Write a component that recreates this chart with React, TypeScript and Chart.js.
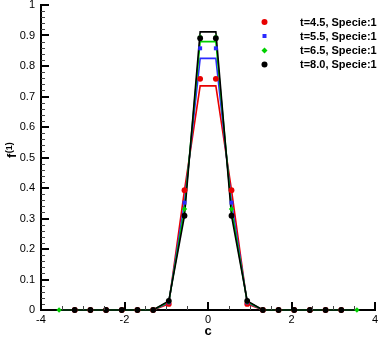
import React, { useEffect, useRef } from "react";
import { Chart, registerables } from "chart.js";

Chart.register(...registerables);

const FONT = '"Liberation Sans", Arial, Helvetica, sans-serif';

const cValues = [
  -3.567, -3.192, -2.816, -2.441, -2.065, -1.69, -1.314, -0.939, -0.563, -0.188,
  0.188, 0.563, 0.939, 1.314, 1.69, 2.065, 2.441, 2.816, 3.192, 3.567,
];

// symbol values
const symT45 = [0, 0, 0, 0, 0, 0, 0, 0.02, 0.393, 0.758, 0.758, 0.393, 0.02, 0, 0, 0, 0, 0, 0, 0];
const symT55 = [0, 0, 0, 0, 0, 0, 0, 0.025, 0.352, 0.858, 0.858, 0.352, 0.025, 0, 0, 0, 0, 0, 0, 0];
const symT65 = [0, 0, 0, 0, 0, 0, 0, 0.027, 0.331, 0.895, 0.895, 0.331, 0.027, 0, 0, 0, 0, 0, 0, 0];
const symT80 = [0, 0, 0, 0, 0, 0, 0, 0.03, 0.309, 0.891, 0.891, 0.309, 0.03, 0, 0, 0, 0, 0, 0, 0];

// line values
const lineT45 = [0, 0, 0, 0, 0, 0, 0, 0.02, 0.393, 0.735, 0.735, 0.393, 0.02, 0, 0, 0, 0, 0, 0, 0];
const lineT55 = [0, 0, 0, 0, 0, 0, 0, 0.025, 0.352, 0.825, 0.825, 0.352, 0.025, 0, 0, 0, 0, 0, 0, 0];
const lineT65 = [0, 0, 0, 0, 0, 0, 0, 0.027, 0.331, 0.88, 0.88, 0.331, 0.027, 0, 0, 0, 0, 0, 0, 0];
const lineT80 = [0, 0, 0, 0, 0, 0, 0, 0.03, 0.309, 0.912, 0.912, 0.309, 0.03, 0, 0, 0, 0, 0, 0, 0];

const legendLabels = ["t=4.5, Specie:1", "t=5.5, Specie:1", "t=6.5, Specie:1", "t=8.0, Specie:1"];
const xTicks = [-4, -2, 0, 2, 4];

const RED = "#e80000";
const BLUE = "#2a2aff";
const GREEN = "#00d000";
const BLACK = "#000000";

const toXY = (ys: number[]) => cValues.map((x, i) => ({ x, y: ys[i] }));

const hideEnds = (r: number) => (ctx: any) =>
  ctx.dataIndex === 0 || ctx.dataIndex === cValues.length - 1 ? 0 : r;

function drawMarker(ctx: CanvasRenderingContext2D, style: string, x: number, y: number, color: string) {
  ctx.save();
  ctx.fillStyle = color;
  ctx.beginPath();
  if (style === "circle") {
    ctx.arc(x, y, 3, 0, Math.PI * 2);
  } else if (style === "rect") {
    ctx.rect(x - 2, y - 2, 4, 4);
  } else {
    ctx.moveTo(x, y - 3);
    ctx.lineTo(x + 3, y);
    ctx.lineTo(x, y + 3);
    ctx.lineTo(x - 3, y);
    ctx.closePath();
  }
  ctx.fill();
  ctx.restore();
}

const decorPlugin = {
  id: "decor",
  afterDraw(chart: any) {
    const ctx: CanvasRenderingContext2D = chart.ctx;
    const xs = chart.scales.x;
    const ys = chart.scales.y;
    const { left, bottom } = chart.chartArea;
    ctx.save();
    // minor ticks
    ctx.strokeStyle = "#444";
    ctx.lineWidth = 1;
    ctx.beginPath();
    for (let k = -8; k <= 8; k++) {
      if (k % 4 === 0) continue;
      const px = Math.round(xs.getPixelForValue(k * 0.5)) + 0.5;
      ctx.moveTo(px, bottom);
      ctx.lineTo(px, bottom - 4);
    }
    for (let k = 0; k <= 50; k++) {
      if (k % 5 === 0) continue;
      const py = Math.round(ys.getPixelForValue(k * 0.02)) + 0.5;
      ctx.moveTo(left, py);
      ctx.lineTo(left + 4, py);
    }
    ctx.stroke();
    // major ticks
    ctx.strokeStyle = "#000";
    ctx.lineWidth = 2;
    ctx.beginPath();
    for (const v of xTicks) {
      const px = Math.round(xs.getPixelForValue(v));
      ctx.moveTo(px, bottom);
      ctx.lineTo(px, bottom - 8);
    }
    for (let k = 0; k <= 10; k++) {
      const py = Math.round(ys.getPixelForValue(k / 10));
      ctx.moveTo(left, py);
      ctx.lineTo(left + 8, py);
    }
    ctx.stroke();

    // axis titles
    ctx.fillStyle = "#000";
    ctx.font = `bold 13px ${FONT}`;
    ctx.textAlign = "center";
    ctx.textBaseline = "middle";
    ctx.fillText("c", (xs.left + xs.right) / 2, 331);

    ctx.save();
    ctx.translate(12, 158);
    ctx.rotate(-Math.PI / 2);
    ctx.textAlign = "left";
    ctx.textBaseline = "alphabetic";
    ctx.font = `bold 13px ${FONT}`;
    ctx.fillText("f", 0, 4);
    const fw = ctx.measureText("f").width;
    ctx.font = `bold 9px ${FONT}`;
    ctx.fillText("(1)", fw + 0.5, -0.5);
    ctx.restore();

    // legend
    const styles = ["circle", "rect", "rectRot", "circle"];
    const colors = [RED, BLUE, GREEN, BLACK];
    const rows = [22, 36, 50.5, 64.5];
    ctx.font = `bold 11px ${FONT}`;
    ctx.textAlign = "left";
    ctx.textBaseline = "middle";
    legendLabels.forEach((lab, i) => {
      drawMarker(ctx, styles[i], 264.5, rows[i], colors[i]);
      ctx.fillStyle = "#000";
      ctx.fillText(lab, 300, rows[i] + 0.5);
    });
    ctx.restore();
  },
};

export default function App() {
  const ref = useRef<HTMLCanvasElement | null>(null);

  useEffect(() => {
    document.body.style.margin = "0";
    const canvas = ref.current;
    if (!canvas) return;
    const symBase = { showLine: false, pointBorderWidth: 0, clip: false };
    const lineBase = { showLine: true, pointRadius: 0, borderWidth: 1.6, fill: false, tension: 0, clip: false };
    const chart = new Chart(canvas, {
      type: "scatter",
      data: {
        datasets: [
          { ...symBase, label: legendLabels[3], data: toXY(symT80), backgroundColor: BLACK, borderColor: BLACK, pointStyle: "circle", pointRadius: hideEnds(2.9) },
          { ...symBase, label: legendLabels[2], data: toXY(symT65), backgroundColor: GREEN, borderColor: GREEN, pointStyle: "rectRot", pointRadius: 2.7 },
          { ...symBase, label: legendLabels[1], data: toXY(symT55), backgroundColor: BLUE, borderColor: BLUE, pointStyle: "rect", pointRadius: hideEnds(2.8) },
          { ...symBase, label: legendLabels[0], data: toXY(symT45), backgroundColor: RED, borderColor: RED, pointStyle: "circle", pointRadius: hideEnds(2.9) },
          { ...lineBase, label: "line8.0", data: toXY(lineT80), borderColor: BLACK, backgroundColor: BLACK },
          { ...lineBase, label: "line6.5", data: toXY(lineT65), borderColor: GREEN, backgroundColor: GREEN },
          { ...lineBase, label: "line5.5", data: toXY(lineT55), borderColor: BLUE, backgroundColor: BLUE },
          { ...lineBase, label: "line4.5", data: toXY(lineT45), borderColor: RED, backgroundColor: RED },
        ] as any,
      },
      options: {
        animation: false,
        responsive: false,
        maintainAspectRatio: false,
        layout: { padding: { top: 5, right: 7, left: 0, bottom: 0 } },
        plugins: { legend: { display: false }, tooltip: { enabled: false } },
        scales: {
          x: {
            type: "linear",
            min: -4,
            max: 4,
            afterFit: (s: any) => {
              s.height = 27;
              s.paddingLeft = 0;
              s.paddingRight = 0;
            },
            afterBuildTicks: (s: any) => {
              s.ticks = xTicks.map((v) => ({ value: v }));
            },
            grid: { display: false, drawTicks: false },
            border: { display: true, color: "#000", width: 2 },
            ticks: {
              color: "#000",
              padding: 3,
              maxRotation: 0,
              autoSkip: false,
              font: { family: FONT, size: 11 },
              callback: (v: any) => String(v),
            },
          },
          y: {
            type: "linear",
            min: 0,
            max: 1,
            afterFit: (s: any) => {
              s.width = 41;
              s.paddingTop = 0;
              s.paddingBottom = 0;
            },
            grid: { display: false, drawTicks: false },
            border: { display: true, color: "#000", width: 2 },
            ticks: {
              stepSize: 0.1,
              color: "#000",
              padding: 6,
              autoSkip: false,
              font: { family: FONT, size: 11 },
              callback: (v: any) => String(Number(Number(v).toFixed(1))),
            },
          },
        },
      } as any,
      plugins: [decorPlugin],
    });
    return () => chart.destroy();
  }, []);

  return (
    <div style={{ width: 382, height: 337 }}>
      <canvas ref={ref} width={382} height={337} style={{ display: "block" }} />
    </div>
  );
}
